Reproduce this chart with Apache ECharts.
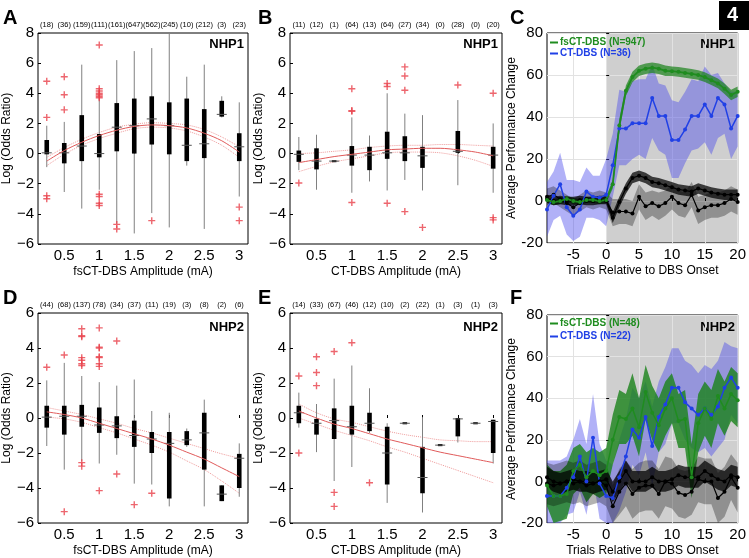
<!DOCTYPE html>
<html>
<head>
<meta charset="UTF-8">
<title>Figure 4</title>
<script src="https://cdn.jsdelivr.net/npm/echarts@6/dist/echarts.min.js"></script>
<style>
    html, body { margin: 0; padding: 0; background: #fff; }
    #main { width: 749px; height: 558px; }
</style>
</head>
<body>
<div id="main"></div>
<script type="text/javascript">
// amplitude categories (mA) and tick labels
var amps = [0.25, 0.5, 0.75, 1, 1.25, 1.5, 1.75, 2, 2.25, 2.5, 2.75, 3];
var ampTicks = [0.5, 1, 1.5, 2, 2.5, 3];

// box stats: [low whisker, q1, median, q3, high whisker]
var countA = [18, 36, 159, 111, 161, 647, 562, 245, 10, 212, 3, 23];
var boxA = [
    [-0.9, -0.05, 0.05, 0.9, 1.85], [-2.55, -0.65, 0.05, 0.7, 2.1], [-3.65, -0.5, 0.5, 2.55, 5.9],
    [-2.4, -0.25, 0.0, 1.3, 3.6], [-4.65, 0.15, 1.75, 3.35, 6.2], [-5.3, 0.0, 1.85, 3.65, 6.8],
    [-3.95, 0.6, 2.3, 3.8, 7.0], [-4.9, -0.05, 1.85, 3.4, 8.0], [-0.8, -0.5, 0.55, 3.65, 5.1],
    [-5.0, -0.3, 0.65, 2.95, 5.9], [2.4, 2.45, 2.6, 3.5, 3.8], [-2.85, -0.5, 0.45, 1.35, 3.4]
];
var outA = [[0.25, 4.8], [0.25, 2.4], [0.25, -2.8], [0.25, -3.0], [0.5, 5.1], [0.5, 3.9], [0.5, 2.9],
    [1, 7.2], [1, 4.3], [1, 4.15], [1, 4.0], [1, 3.9], [1, 3.8], [1, 3.7], [1, -2.7], [1, -2.85], [1, -3.3], [1, -3.45],
    [1.25, -4.7], [1.25, -5.0], [1.75, -4.45], [3, -3.55], [3, -4.45]];
var fitA = [-0.5, 0.2, 0.75, 1.2, 1.55, 1.8, 1.9, 1.85, 1.7, 1.35, 0.85, 0.1];
var fitAHi = [-0.25, 0.4, 0.95, 1.4, 1.75, 1.95, 2.05, 2.0, 1.9, 1.6, 1.1, 0.45];
var fitALo = [-0.8, -0.05, 0.55, 1.0, 1.35, 1.65, 1.75, 1.7, 1.5, 1.1, 0.55, -0.25];

var countB = [11, 12, 1, 64, 13, 64, 27, 34, 0, 28, 0, 20];
var boxB = [
    [-1.1, -0.55, -0.05, 0.2, 1.1], [-2.4, -1.05, -0.5, 0.35, 1.25], [-0.5, -0.56, -0.5, -0.44, -0.5],
    [-2.6, -0.8, -0.1, 0.5, 2.4], [-1.85, -1.1, -0.1, 0.45, 1.2], [-2.45, -0.35, 0.05, 1.45, 4.0],
    [-1.75, -0.5, 0.05, 1.15, 2.65], [-2.45, -0.95, -0.15, 0.45, 2.55], null,
    [-2.1, 0.05, 0.15, 1.5, 3.55], null, [-2.6, -1.0, -0.1, 0.45, 2.0]
];
var outB = [[0.25, -1.95], [1, 4.3], [1, 2.85], [1, 2.8], [1, -3.25], [1.5, 4.65], [1.5, 4.45], [1.5, -3.3],
    [1.75, 5.75], [1.75, 5.15], [1.75, 4.2], [1.75, -3.85], [2, -4.9], [2.5, 4.55], [3, 4.0], [3, -4.25], [3, -4.4]];
var fitB = [-0.6, -0.4, -0.2, -0.05, 0.1, 0.25, 0.3, 0.35, 0.35, 0.25, 0.1, -0.15];
var fitBHi = [0.0, 0.05, 0.15, 0.25, 0.4, 0.5, 0.55, 0.55, 0.6, 0.6, 0.55, 0.5];
var fitBLo = [-1.2, -0.85, -0.55, -0.35, -0.15, 0.05, 0.1, 0.1, 0.05, -0.15, -0.45, -0.85];

var countD = [44, 68, 137, 78, 34, 37, 11, 19, 3, 8, 2, 6];
var boxD = [
    [-1.6, -0.55, 0.05, 0.7, 2.15], [-2.95, -0.95, 0.1, 0.7, 3.15], [-2.45, -0.5, 0.1, 0.75, 2.4],
    [-2.6, -0.85, -0.4, 0.6, 2.05], [-2.1, -1.15, -0.45, 0.1, 1.85], [-3.75, -1.65, -1.0, -0.15, 2.2],
    [-3.8, -2.0, -1.2, -0.8, 0.4], [-5.05, -4.6, -1.45, -0.8, 0.3], [-1.65, -1.55, -1.25, -0.75, -0.6],
    [-5.05, -2.95, -0.85, 0.3, 1.05], [-4.75, -4.75, -4.35, -3.85, -3.85], [-4.5, -4.0, -2.3, -2.05, -1.45]
];
var outD = [[0.25, 2.9], [0.5, 3.6], [0.5, -5.35], [0.75, 5.1], [0.75, 4.7], [0.75, 4.65], [0.75, 3.45], [0.75, 3.3],
    [0.75, 3.1], [0.75, 3.0], [0.75, -2.55], [0.75, -2.75], [1, 5.15], [1, 4.05], [1, 4.0], [1, 3.5], [1, 3.45],
    [1, 3.1], [1, 2.95], [1, -4.15], [1.25, 4.4], [1.25, -3.2], [1.5, -4.95], [1.75, -4.3]];
var fitD = [0.35, 0.2, 0.0, -0.3, -0.6, -0.9, -1.2, -1.55, -1.95, -2.35, -2.85, -3.35];
var fitDHi = [0.6, 0.4, 0.2, -0.05, -0.3, -0.6, -0.85, -1.15, -1.45, -1.75, -2.05, -2.3];
var fitDLo = [0.05, -0.05, -0.25, -0.55, -0.85, -1.2, -1.55, -1.95, -2.45, -2.95, -3.6, -4.3];

var countE = [14, 33, 67, 46, 12, 10, 2, 22, 1, 3, 1, 3];
var boxE = [
    [-0.55, -0.3, 0.3, 0.7, 1.45], [-1.95, -0.95, -0.3, -0.05, 0.8], [-3.6, -1.2, -0.15, 0.55, 2.25],
    [-2.8, -0.95, -0.5, 0.7, 3.0], [-0.85, -0.75, -0.3, 0.3, 1.7], [-4.85, -3.8, -2.0, -0.5, -0.3],
    [-0.3, -0.36, -0.3, -0.24, -0.3], [-5.4, -4.3, -3.4, -1.65, 0.05], [-1.55, -1.61, -1.55, -1.49, -1.55],
    [-1.4, -1.05, -0.05, 0.0, 0.0], [-0.3, -0.36, -0.3, -0.24, -0.3], [-2.6, -2.0, -0.2, -0.1, -0.1]
];
var outE = [[0.25, 2.4], [0.25, -2.0], [0.5, 3.5], [0.5, 2.6], [0.5, 1.85], [0.75, 3.8], [0.75, -4.25],
    [0.75, -5.05], [1, 4.3], [1.25, -3.7]];
var fitE = [0.4, 0.0, -0.35, -0.6, -0.9, -1.2, -1.45, -1.7, -1.95, -2.15, -2.35, -2.55];
var fitEHi = [0.8, 0.3, -0.05, -0.25, -0.5, -0.75, -0.95, -1.1, -1.25, -1.3, -1.35, -1.35];
var fitELo = [0.0, -0.35, -0.7, -1.0, -1.3, -1.65, -1.95, -2.3, -2.65, -3.0, -3.35, -3.7];

// trials relative to onset, -9 .. 20
var trials = [-9, -8, -7, -6, -5, -4, -3, -2, -1, 0, 1, 2, 3, 4, 5, 6, 7, 8, 9, 10, 11, 12, 13, 14, 15, 16, 17, 18, 19, 20];
var trialTicks = [-5, 0, 5, 10, 15, 20];
var onset = [0, 20];

// NHP1
var gC   = [0.5, -0.5, 0, 1, 0, -0.5, 0.5, 0.5, 0, 0.5, 8, 36, 52.5, 59, 62, 63, 63.5, 63, 62, 61.8, 61.5, 61, 60.5, 60, 59, 57.5, 56, 53.5, 50.5, 52];
var gCHi = [2, 1, 1.5, 2.5, 1.5, 1, 2, 2, 1.5, 2, 10, 39, 55, 61.5, 64.5, 65.5, 66, 65.5, 64.5, 64, 63.8, 63.3, 62.8, 62.3, 61.3, 59.8, 58.3, 56, 53, 54.5];
var gCLo = [-1, -2, -1.5, -0.5, -1.5, -2, -1, -1, -1.5, -1, 6, 33, 50, 56.5, 59.5, 60.5, 61, 60.5, 59.5, 59.5, 59.2, 58.7, 58.2, 57.7, 56.7, 55.2, 53.7, 51, 48, 49.5];
var bC   = [-4, 2.5, 8, -3, -7, -4, 4.5, 2, 1.5, 3, 17, 34.5, 34.5, 37, 37, 37, 49, 40.5, 40.5, 29, 29, 34, 40.5, 40.5, 46, 40.5, 49, 46, 34.5, 40.5];
var bCHi = [9, 14, 23, 10, 10, 9, 16, 12, 12, 20, 32, 53, 52, 57, 58, 58, 65, 56, 55, 48, 47, 52, 58, 57, 64, 60, 61, 56, 52, 52];
var bCLo = [-17, -9, -7, -16, -19, -17, -8, -8, -9, -12, 2, 17, 17, 20, 22, 20, 30, 24, 22, 11, 11, 18, 24, 25, 28, 22, 30, 32, 20, 26];
var kC1   = [1, 0, 0.5, 0, 0, 0.5, 0, 0, 0.5, 0.5, -8, -0.5, 6, 11, 12, 11, 9, 8.5, 7.5, 6.5, 5.5, 5, 4.5, 6, 5, 4, 3.5, 3, 3, 3];
var kC1Hi = [3, 2, 2.5, 2, 2, 2.5, 2, 2, 2.5, 2.5, -5.5, 2, 8.5, 13.5, 14.5, 13.5, 11.5, 11, 10, 9, 8, 7.5, 7, 8.5, 7.5, 6.5, 6, 5.5, 5.5, 5.5];
var kC1Lo = [-1, -2, -1.5, -2, -2, -1.5, -2, -2, -1.5, -1.5, -10.5, -3, 3.5, 8.5, 9.5, 8.5, 6.5, 6, 5, 4, 3, 2.5, 2, 3.5, 2.5, 1.5, 1, 0.5, 0.5, 0.5];
var kC2   = [2, 3, 1, -1, -3, -1, 1, 0, 1, 0, -5.5, -5, -5, -6, 2, -2.5, -1, -2.5, -1, 2, -1, -2, 3, -4.5, -3, -2, -2, -1, 1, -0.5];
var kC2Hi = [6, 7, 5, 3, 1, 3, 5, 4, 5, 4, 1, 1, 1, 0, 8, 4, 5, 4, 5, 8, 5, 4, 9, 2, 3, 4, 4, 5, 7, 5.5];
var kC2Lo = [-2, -1, -3, -5, -7, -5, -3, -4, -3, -4, -12, -11, -11, -12, -4, -9, -7, -9, -7, -4, -7, -8, -3, -11, -9, -8, -8, -7, -5, -6.5];

// NHP2
var gF   = [-2, -7, -7, -6, 5, 8, 2, 5, 3, 5, 20, 31, 30, 35, 26, 43, 33, 27, 35, 40, 29, 30, 2, 28, 35, 30, 41, 35, 42, 39];
var gFHi = [8, 5, 5, 8, 16, 18, 14, 16, 14, 16, 32, 44, 42, 52, 40, 56, 46, 40, 48, 52, 42, 44, 18, 42, 48, 44, 54, 48, 55, 52];
var gFLo = [-12, -20, -19, -18, -6, -3, -10, -6, -8, -6, 8, 18, 18, 22, 12, 30, 20, 14, 22, 28, 16, 16, -8, 14, 22, 16, 28, 22, 29, 26];
var bF   = [-7, -7, -7, -3, 2, 12, 0, 21, -1, -7, -8, 2, 12, 25, 21, 31, 17, 31, 37, 45, 45, 38, 35, 32, 35, 32, 36, 45, 50, 45];
var bFHi = [10, 10, 10, 12, 20, 30, 18, 42, 18, 10, 8, 20, 30, 45, 40, 48, 36, 48, 55, 64, 64, 58, 56, 52, 56, 54, 58, 67, 65, 64];
var bFLo = [-20, -20, -20, -16, -15, -5, -16, 2, -18, -20, -20, -14, -5, 8, 3, 14, -2, 14, 18, 28, 28, 20, 16, 14, 16, 12, 16, 20, 32, 28];
var kF1   = [2, 0, -1, 0, 1, 0, 0, -1, 0, 1, -5, 0, 5, 0, 0, 0, 2, 0, 0, 1, 3, 2, 2, 2, 5, 3, 1, 0, 3, 2];
var kF1Hi = [7, 5, 4, 5, 6, 5, 5, 4, 5, 6, 0, 5, 10, 5, 5, 5, 7, 5, 5, 6, 8, 7, 7, 7, 10, 8, 6, 5, 8, 7];
var kF1Lo = [-3, -5, -6, -5, -4, -5, -5, -6, -5, -4, -10, -5, 0, -5, -5, -5, -3, -5, -5, -4, -2, -3, -3, -3, 0, -2, -4, -5, -2, -3];
var kF2   = [-1, -2, -1, 0, -1, 0, -2, -1, 0, -2, -12, -5, -1, -6, -3, -2, -2, -6, 0, -1, -5.5, -6.5, -5, 1, 0, 0, -8, -5, 2, -3];
var kF2Hi = [9, 8, 9, 10, 9, 10, 8, 9, 10, 8, -2, 6, 10, 6, 9, 10, 10, 6, 12, 11, 6, 5, 6, 12, 11, 11, 4, 7, 13, 9];
var kF2Lo = [-11, -12, -11, -10, -11, -10, -12, -11, -10, -12, -20, -16, -12, -18, -15, -14, -14, -18, -12, -13, -17, -18, -16, -10, -11, -11, -20, -17, -9, -15];

var GREEN = '#1f8c1f', BLUE = '#2040e6';
var FONT = '"Liberation Sans", Arial, Helvetica, sans-serif';

var myChart = echarts.init(document.getElementById('main'), null, {renderer: 'canvas'});

var grids = [
    {left: 36, top: 33, width: 212, height: 211},   // A
    {left: 290, top: 33, width: 212, height: 211},  // B
    {left: 547, top: 33, width: 191, height: 210},  // C
    {left: 36, top: 313, width: 212, height: 212},  // D
    {left: 290, top: 313, width: 212, height: 212}, // E
    {left: 547, top: 315, width: 191, height: 210}  // F
];
grids.forEach(function (g) {
    g.show = true;
    g.borderColor = '#000';
    g.borderWidth = 1;
    g.backgroundColor = 'transparent';
});

function minus(v) { return String(v).replace('-', '\u2212'); }

function ampAxis(gi, name) {
    return {
        gridIndex: gi, type: 'value', min: 0.125, max: 3.125,
        axisLine: {show: false},
        axisTick: {inside: true, length: 3, customValues: ampTicks, lineStyle: {color: '#000'}},
        axisLabel: {customValues: ampTicks, fontSize: 15, color: '#000', margin: 4},
        splitLine: {show: false},
        name: name, nameLocation: 'middle', nameGap: 22,
        nameTextStyle: {fontSize: 12, color: '#000'}
    };
}
function countAxis(gi, counts) {
    return {
        gridIndex: gi, type: 'value', position: 'top', min: 0.125, max: 3.125,
        axisLine: {show: false}, axisTick: {show: false}, splitLine: {show: false},
        axisLabel: {
            customValues: amps, fontSize: 7.5, color: '#000', margin: 4,
            formatter: function (v) { return '(' + counts[amps.indexOf(v)] + ')'; }
        }
    };
}
function trialAxis(gi) {
    return {
        gridIndex: gi, type: 'value', min: -9, max: 20,
        axisLine: {show: false},
        axisTick: {inside: true, length: 3, customValues: trialTicks, lineStyle: {color: '#000'}},
        axisLabel: {customValues: trialTicks, fontSize: 15, color: '#000', margin: 4},
        splitLine: {show: true, lineStyle: {color: '#e2e2e2'}},
        name: 'Trials Relative to DBS Onset', nameLocation: 'middle', nameGap: 22,
        nameTextStyle: {fontSize: 12, color: '#000'}
    };
}
function oddsAxis(gi, min, max) {
    return {
        gridIndex: gi, type: 'value', min: min, max: max, interval: 2,
        axisLine: {show: false},
        axisTick: {inside: true, length: 3, lineStyle: {color: '#000'}},
        axisLabel: {fontSize: 15, color: '#000', margin: 4, formatter: minus},
        splitLine: {show: false},
        name: 'Log (Odds Ratio)', nameLocation: 'middle', nameGap: 20, nameRotate: 90,
        nameTextStyle: {fontSize: 12, color: '#000'}
    };
}
function perfAxis(gi) {
    return {
        gridIndex: gi, type: 'value', min: -20, max: 80, interval: 20,
        axisLine: {show: false},
        axisTick: {inside: true, length: 3, lineStyle: {color: '#000'}},
        axisLabel: {fontSize: 15, color: '#000', margin: 4},
        splitLine: {show: true, lineStyle: {color: '#e2e2e2'}},
        name: 'Average Performance Change', nameLocation: 'middle', nameGap: 24, nameRotate: 90,
        nameTextStyle: {fontSize: 12, color: '#000'}
    };
}

var xAxes = [
    ampAxis(0, 'fsCT-DBS Amplitude (mA)'), countAxis(0, countA),
    ampAxis(1, 'CT-DBS Amplitude (mA)'), countAxis(1, countB),
    trialAxis(2),
    ampAxis(3, 'fsCT-DBS Amplitude (mA)'), countAxis(3, countD),
    ampAxis(4, 'CT-DBS Amplitude (mA)'), countAxis(4, countE),
    trialAxis(5)
];
var yAxes = [oddsAxis(0, -6, 8), oddsAxis(1, -6, 8), perfAxis(2), oddsAxis(3, -6, 6), oddsAxis(4, -6, 6), perfAxis(5)];

// box: thin whisker, thick black box, grey median tick
function renderBox(params, api) {
    var x = api.value(0);
    var lo = api.coord([x, api.value(1)]);
    var q1 = api.coord([x, api.value(2)]);
    var md = api.coord([x, api.value(3)]);
    var q3 = api.coord([x, api.value(4)]);
    var hi = api.coord([x, api.value(5)]);
    return {
        type: 'group', children: [
            {type: 'line', shape: {x1: lo[0], y1: lo[1], x2: hi[0], y2: hi[1]}, style: {stroke: '#808080', lineWidth: 1}},
            {type: 'rect', shape: {x: q1[0] - 2.3, y: q3[1], width: 4.6, height: Math.max(q1[1] - q3[1], 2)}, style: {fill: '#000'}},
            {type: 'line', shape: {x1: md[0] - 5, y1: md[1], x2: md[0] + 5, y2: md[1]}, style: {stroke: '#555', lineWidth: 1}}
        ]
    };
}

function boxPanel(xi, yi, box, out, fit, fitHi, fitLo) {
    var data = [];
    for (var i = 0; i < amps.length; i++) {
        if (box[i]) data.push([amps[i]].concat(box[i]));
    }
    function pairs(arr) { return amps.map(function (a, i) { return [a, arr[i]]; }); }
    return [
        {type: 'line', xAxisIndex: xi, yAxisIndex: yi, data: pairs(fitHi), symbol: 'none', smooth: 0.3, silent: true,
            lineStyle: {color: '#ee9a9a', width: 1, type: 'dotted'}, z: 2},
        {type: 'line', xAxisIndex: xi, yAxisIndex: yi, data: pairs(fitLo), symbol: 'none', smooth: 0.3, silent: true,
            lineStyle: {color: '#ee9a9a', width: 1, type: 'dotted'}, z: 2},
        {type: 'custom', xAxisIndex: xi, yAxisIndex: yi, data: data, encode: {x: 0, y: [1, 2, 3, 4, 5]},
            renderItem: renderBox, silent: true, z: 3},
        {type: 'line', xAxisIndex: xi, yAxisIndex: yi, data: pairs(fit), symbol: 'none', smooth: 0.3, silent: true,
            lineStyle: {color: '#e05a5a', width: 1}, z: 4},
        {type: 'scatter', xAxisIndex: xi, yAxisIndex: yi, data: out, silent: true,
            symbol: 'path://M4,0H6V4H10V6H6V10H4V6H0V4H4Z', symbolSize: 7,
            itemStyle: {color: '#e8404a'}, z: 5}
    ];
}

// shaded band drawn as one polygon through the axis scales
function band(xi, yi, lo, hi, color) {
    return {
        type: 'custom', xAxisIndex: xi, yAxisIndex: yi, silent: true, clip: true,
        data: trials.map(function (t, i) { return [t, lo[i], hi[i]]; }),
        encode: {x: 0, y: [1, 2]},
        renderItem: function (params, api) {
            if (params.dataIndex !== 0) return null;
            var pts = [], i;
            for (i = 0; i < trials.length; i++) pts.push(api.coord([trials[i], hi[i]]));
            for (i = trials.length - 1; i >= 0; i--) pts.push(api.coord([trials[i], lo[i]]));
            return {type: 'polygon', shape: {points: pts}, style: {fill: color}};
        }
    };
}
function meanLine(xi, yi, name, arr, color, width) {
    return {
        type: 'line', name: name, xAxisIndex: xi, yAxisIndex: yi, silent: true,
        data: trials.map(function (t, i) { return [t, arr[i]]; }),
        symbol: 'circle', symbolSize: 4, showSymbol: true,
        lineStyle: {color: color, width: width}, itemStyle: {color: color}
    };
}
function onsetShade(xi, yi, ymin, ymax) {
    return {
        type: 'custom', xAxisIndex: xi, yAxisIndex: yi, silent: true, z: -1,
        data: [[onset[0], ymin, onset[1], ymax]],
        renderItem: function (params, api) {
            var p0 = api.coord([api.value(0), api.value(3)]);
            var p1 = api.coord([api.value(2), api.value(1)]);
            return {type: 'rect', shape: {x: p0[0], y: p0[1], width: p1[0] - p0[0], height: p1[1] - p0[1]},
                style: {fill: '#cfcfcf'}};
        }
    };
}

var series = [];
series = series.concat(boxPanel(0, 0, boxA, outA, fitA, fitAHi, fitALo));
series = series.concat(boxPanel(2, 1, boxB, outB, fitB, fitBHi, fitBLo));
series = series.concat(boxPanel(5, 3, boxD, outD, fitD, fitDHi, fitDLo));
series = series.concat(boxPanel(7, 4, boxE, outE, fitE, fitEHi, fitELo));

// panel C
series.push(onsetShade(4, 2, -20, 80));
series.push(band(4, 2, bCLo, bCHi, 'rgba(70,70,235,0.42)'));
series.push(band(4, 2, gCLo, gCHi, 'rgba(25,130,25,0.7)'));
series.push(band(4, 2, kC2Lo, kC2Hi, 'rgba(0,0,0,0.3)'));
series.push(band(4, 2, kC1Lo, kC1Hi, 'rgba(0,0,0,0.72)'));
series.push(meanLine(4, 2, 'ctrl C2', kC2, '#000', 1.2));
series.push(meanLine(4, 2, 'ctrl C1', kC1, '#000', 1.2));
series.push(meanLine(4, 2, 'CT-DBS (N=36)', bC, BLUE, 1.5));
series.push(meanLine(4, 2, 'fsCT-DBS (N=947)', gC, GREEN, 1.8));

// panel F
series.push(onsetShade(9, 5, -20, 80));
series.push(band(9, 5, bFLo, bFHi, 'rgba(70,70,235,0.42)'));
series.push(band(9, 5, gFLo, gFHi, 'rgba(25,130,25,0.8)'));
series.push(band(9, 5, kF2Lo, kF2Hi, 'rgba(0,0,0,0.3)'));
series.push(band(9, 5, kF1Lo, kF1Hi, 'rgba(0,0,0,0.72)'));
series.push(meanLine(9, 5, 'ctrl F2', kF2, '#000', 1.2));
series.push(meanLine(9, 5, 'ctrl F1', kF1, '#000', 1.2));
series.push(meanLine(9, 5, 'CT-DBS (N=22)', bF, BLUE, 1.5));
series.push(meanLine(9, 5, 'fsCT-DBS (N=48)', gF, GREEN, 1.5));

function legendAt(top, gap, names) {
    return {
        left: 550, top: top, orient: 'vertical', itemGap: gap, itemWidth: 8, itemHeight: 2, icon: 'rect',
        selectedMode: false, padding: 0,
        textStyle: {fontSize: 10, fontWeight: 'bold', padding: [0, 0, 0, -3], lineHeight: 11},
        data: [
            {name: names[0], textStyle: {color: GREEN}},
            {name: names[1], textStyle: {color: BLUE}}
        ]
    };
}

function panelText(x, y, txt, size) {
    return {type: 'text', left: x, top: y, silent: true,
        style: {text: txt, fontSize: size, fontWeight: 'bold', fill: '#000', fontFamily: FONT}};
}

var option = {
    animation: false,
    textStyle: {fontFamily: FONT},
    grid: grids,
    xAxis: xAxes,
    yAxis: yAxes,
    legend: [
        legendAt(37, 0, ['fsCT-DBS (N=947)', 'CT-DBS (N=36)']),
        legendAt(318, 2, ['fsCT-DBS (N=48)', 'CT-DBS (N=22)'])
    ],
    graphic: [
        panelText(3, 8, 'A', 20), panelText(258, 8, 'B', 20), panelText(510, 8, 'C', 20),
        panelText(3, 288, 'D', 20), panelText(258, 288, 'E', 20), panelText(510, 288, 'F', 20),
        {type: 'text', right: 505, top: 38, style: {text: 'NHP1', fontSize: 13, fontWeight: 'bold', fill: '#000', fontFamily: FONT}},
        {type: 'text', right: 251, top: 38, style: {text: 'NHP1', fontSize: 13, fontWeight: 'bold', fill: '#000', fontFamily: FONT}},
        {type: 'text', right: 14, top: 38, style: {text: 'NHP1', fontSize: 13, fontWeight: 'bold', fill: '#000', fontFamily: FONT}},
        {type: 'text', right: 505, top: 321, style: {text: 'NHP2', fontSize: 13, fontWeight: 'bold', fill: '#000', fontFamily: FONT}},
        {type: 'text', right: 251, top: 321, style: {text: 'NHP2', fontSize: 13, fontWeight: 'bold', fill: '#000', fontFamily: FONT}},
        {type: 'text', right: 14, top: 321, style: {text: 'NHP2', fontSize: 13, fontWeight: 'bold', fill: '#000', fontFamily: FONT}},
        {type: 'rect', left: 719, top: 1, shape: {width: 30, height: 29}, style: {fill: '#000'}},
        {type: 'text', left: 727, top: 5, style: {text: '4', fontSize: 20, fontWeight: 'bold', fill: '#fff', fontFamily: FONT}}
    ],
    series: series
};

myChart.setOption(option);
</script>
</body>
</html>
